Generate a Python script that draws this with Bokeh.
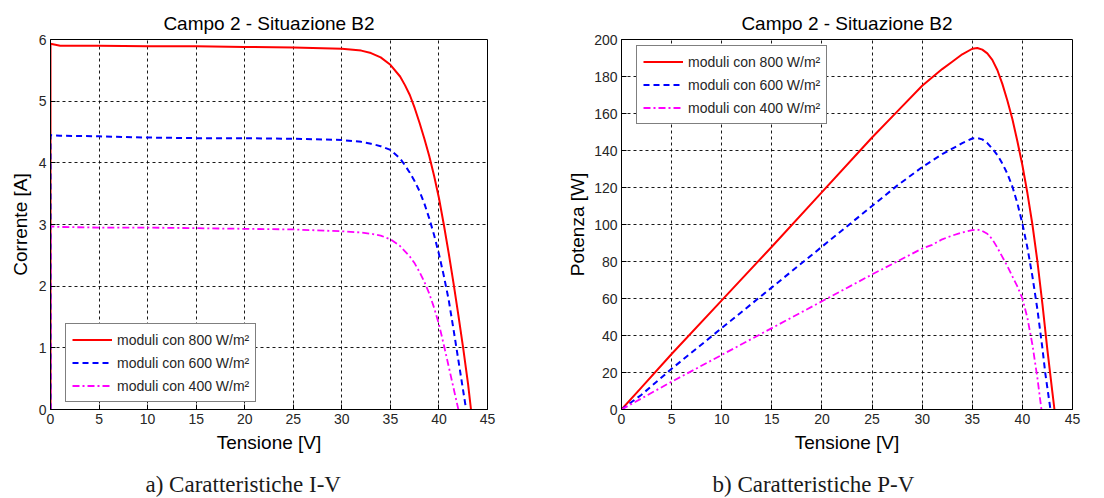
from bokeh.plotting import figure
from bokeh.layouts import row, column
from bokeh.models import Range1d, FixedTicker, Label, Legend, LegendItem
from bokeh.embed import file_html
from bokeh.resources import INLINE

# ---------------- data ----------------
title_text = "Campo 2 - Situazione B2"
labels = ["moduli con 800 W/m\u00b2", "moduli con 600 W/m\u00b2", "moduli con 400 W/m\u00b2"]
x_ticks = [0, 5, 10, 15, 20, 25, 30, 35, 40, 45]
iv_ticks = [0, 1, 2, 3, 4, 5, 6]
pv_ticks = [0, 20, 40, 60, 80, 100, 120, 140, 160, 180, 200]
captions = ["a) Caratteristiche I-V", "b) Caratteristiche P-V"]

# I-V curves (Tensione [V], Corrente [A])
iv_v_800 = [0, 0, 1, 5, 10, 15, 20, 25, 30, 32, 33, 34, 35, 36, 36.5, 37, 37.5, 38, 38.5, 39, 39.5, 40, 40.5, 41, 41.5, 42, 42.5, 43, 43.3]
iv_i_800 = [0, 5.93, 5.90, 5.90, 5.89, 5.89, 5.88, 5.87, 5.85, 5.82, 5.78, 5.71, 5.59, 5.40, 5.26, 5.10, 4.89, 4.65, 4.39, 4.11, 3.79, 3.43, 3.00, 2.54, 2.05, 1.53, 0.99, 0.41, 0]
iv_v_600 = [0, 0, 1, 5, 10, 15, 20, 25, 30, 32, 33, 34, 35, 36, 36.5, 37, 37.5, 38, 38.5, 39, 39.5, 40, 40.5, 41, 41.5, 42, 42.4, 42.8]
iv_i_600 = [0, 4.45, 4.44, 4.43, 4.41, 4.40, 4.40, 4.39, 4.37, 4.34, 4.31, 4.27, 4.21, 4.07, 3.96, 3.84, 3.70, 3.54, 3.34, 3.10, 2.83, 2.52, 2.17, 1.78, 1.30, 0.80, 0.40, 0]
iv_v_400 = [0, 0, 1, 5, 10, 15, 20, 25, 30, 32, 33, 34, 35, 36, 37, 37.5, 38, 38.5, 39, 39.5, 40, 40.5, 41, 41.5, 42]
iv_i_400 = [0, 2.97, 2.96, 2.95, 2.95, 2.94, 2.93, 2.92, 2.89, 2.87, 2.85, 2.82, 2.76, 2.65, 2.48, 2.37, 2.23, 2.07, 1.88, 1.65, 1.38, 1.05, 0.70, 0.35, 0]

# P-V curves (Tensione [V], Potenza [W])
pv_v_800 = [0, 2, 5, 10, 15, 20, 25, 27.5, 30, 32, 33, 34, 35, 35.5, 36, 36.5, 37, 37.5, 38, 38.5, 39, 39.5, 40, 40.5, 41, 41.5, 42, 42.5, 43, 43.2]
pv_p_800 = [0, 12, 30, 59, 88, 117.5, 147, 161, 175, 184, 188, 192, 195, 195.4, 194.5, 192.5, 189, 183.5, 176, 167, 157, 145, 132, 117, 100, 80, 57, 32, 9, 0]
pv_v_600 = [0, 2, 5, 10, 15, 20, 25, 27.5, 30, 32, 33, 34, 35, 35.5, 36, 36.5, 37, 37.5, 38, 38.5, 39, 39.5, 40, 40.5, 41, 41.5, 42, 42.3, 42.8]
pv_p_600 = [0, 8, 22, 44, 66, 88, 110, 121, 131, 138, 141, 144, 146.5, 146.8, 146, 144, 141, 137.5, 133, 127.5, 120.5, 111.5, 100.5, 87.5, 72, 54, 33, 19, 0]
pv_v_400 = [0, 2, 5, 10, 15, 20, 25, 27.5, 30, 31, 32, 33, 34, 35, 35.5, 36, 36.5, 37, 37.5, 38, 38.5, 39, 39.5, 40, 40.5, 41, 41.5, 41.9]
pv_p_400 = [0, 6, 15, 29.5, 44, 58.5, 73, 80, 87, 89, 92, 94, 95.7, 97, 97.3, 96.5, 95, 92, 87.5, 82.5, 77.5, 72, 66.5, 60, 49.5, 35, 17, 0]

colors = ["#ff0000", "#0000ff", "#ff00ff"]
dashes = ["solid", "6 4", "7 3 2 3"]
widths = [2, 2, 1.8]

SANS = "Liberation Sans"
SERIF = "Liberation Serif"
PLOT_H = 458
CAP_H = 40


def make_fig(width, left, right, ymax, yticks, ylabel, ylab_standoff, series, legend_loc):
    p = figure(width=width, height=PLOT_H, x_range=Range1d(0, 45), y_range=Range1d(0, ymax),
               output_backend="svg", toolbar_location=None,
               min_border_left=left, min_border_right=right, min_border_top=39, min_border_bottom=49)
    p.background_fill_color = "white"
    p.border_fill_color = "white"
    p.outline_line_color = "black"
    p.outline_line_width = 1

    p.title.text = title_text
    p.title.align = "center"
    p.title.text_font = SANS
    p.title.text_font_size = "19px"
    p.title.text_font_style = "normal"
    p.title.text_color = "black"
    p.title.standoff = 12

    for ax in (p.xaxis[0], p.yaxis[0]):
        ax.major_label_text_font = SANS
        ax.major_label_text_font_size = "14px"
        ax.major_label_text_color = "#262626"
        ax.axis_label_text_font = SANS
        ax.axis_label_text_font_size = "19px"
        ax.axis_label_text_font_style = "normal"
        ax.axis_label_text_color = "black"
        ax.major_tick_in = 5
        ax.major_tick_out = 0
        ax.minor_tick_line_color = None
        ax.axis_line_color = "black"
        ax.major_tick_line_color = "black"
    p.xaxis[0].ticker = FixedTicker(ticks=x_ticks)
    p.yaxis[0].ticker = FixedTicker(ticks=yticks)
    p.xaxis[0].axis_label = "Tensione [V]"
    p.yaxis[0].axis_label = ylabel
    p.xaxis[0].major_label_standoff = 4
    p.xaxis[0].axis_label_standoff = 5
    p.yaxis[0].major_label_standoff = 4
    p.yaxis[0].axis_label_standoff = ylab_standoff

    for g in (p.xgrid[0], p.ygrid[0]):
        g.grid_line_color = "black"
        g.grid_line_dash = "3 3"
        g.grid_line_width = 1
        g.grid_line_alpha = 0.9
    p.xgrid[0].ticker = FixedTicker(ticks=x_ticks)
    p.ygrid[0].ticker = FixedTicker(ticks=yticks)

    items = []
    for (xs, ys), c, d, w, lab in zip(series, colors, dashes, widths, labels):
        r = p.line(xs, ys, line_color=c, line_dash=d, line_width=w)
        items.append(LegendItem(label=lab, renderers=[r]))

    leg = Legend(items=items, location=legend_loc)
    leg.label_text_font = SANS
    leg.label_text_font_size = "14px"
    leg.label_text_color = "#262626"
    leg.glyph_width = 40
    leg.glyph_height = 19
    leg.label_height = 19
    leg.label_standoff = 5
    leg.spacing = 4
    leg.padding = 6
    leg.margin = 0
    leg.border_line_color = "black"
    leg.border_line_width = 1
    leg.background_fill_color = "white"
    leg.background_fill_alpha = 1
    p.add_layout(leg, "center")
    return p


def make_caption(width, caption, cap_x):
    c = figure(width=width, height=CAP_H, x_axis_type=None, y_axis_type=None,
               output_backend="svg", toolbar_location=None,
               min_border=0, min_border_left=0, min_border_right=0,
               min_border_top=0, min_border_bottom=0)
    c.outline_line_color = None
    c.background_fill_color = "white"
    c.border_fill_color = "white"
    c.add_layout(Label(x=cap_x, y=14, x_units="screen", y_units="screen", text=caption,
                       text_font=SERIF, text_font_size="23px", text_color="#1a1a1a",
                       text_baseline="middle", text_align="left"))
    return c


p1 = make_fig(556, 50, 69, 6, iv_ticks, "Corrente [A]", 5,
              [(iv_v_800, iv_i_800), (iv_v_600, iv_i_600), (iv_v_400, iv_i_400)], (15, 7))
p2 = make_fig(548, 65, 32, 200, pv_ticks, "Potenza [W]", 3,
              [(pv_v_800, pv_p_800), (pv_v_600, pv_p_600), (pv_v_400, pv_p_400)], (15, 285))
c1 = make_caption(556, captions[0], 145)
c2 = make_caption(548, captions[1], 156)

layout = column(row(p1, p2), row(c1, c2))
open("out.html", "w").write(file_html(layout, INLINE))
